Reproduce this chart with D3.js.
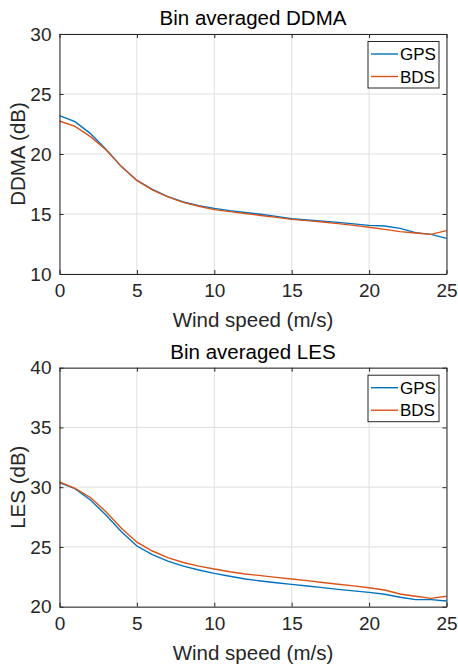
<html>
<head>
<script src="https://d3js.org/d3.v7.min.js"></script>
<style>
body { margin: 0; background: #fff; }
text { font-family: "Liberation Sans", Arial, sans-serif; }
</style>
</head>
<body>
<svg id="chart" width="458" height="665"></svg>
<script>
// wind speed bins (m/s)
var windSpeed = [0,1,2,3,4,5,6,7,8,9,10,11,12,13,14,15,16,17,18,19,20,21,22,23,24,25];

var ddmaGPS = [23.2,22.7,21.7,20.4,18.95,17.8,17.05,16.45,16.0,15.7,15.47,15.28,15.12,14.98,14.8,14.6,14.5,14.4,14.3,14.18,14.05,14.0,13.8,13.45,13.3,12.97];
var ddmaBDS = [22.75,22.3,21.45,20.35,18.95,17.8,17.02,16.42,15.97,15.65,15.36,15.2,15.04,14.88,14.72,14.55,14.45,14.33,14.2,14.05,13.9,13.72,13.53,13.42,13.3,13.62];

var lesGPS = [30.38,29.88,28.93,27.67,26.28,25.08,24.36,23.82,23.4,23.07,22.79,22.55,22.32,22.15,22.0,21.87,21.73,21.6,21.45,21.32,21.2,21.04,20.79,20.59,20.59,20.48];
var lesBDS = [30.44,29.9,29.14,27.95,26.56,25.4,24.66,24.1,23.7,23.4,23.15,22.93,22.74,22.6,22.45,22.32,22.18,22.03,21.88,21.74,21.59,21.4,21.06,20.87,20.7,20.87];

var xTicks = [0,5,10,15,20,25];
var ddmaTicks = [10,15,20,25,30];
var lesTicks = [20,25,30,35,40];
var seriesNames = ["GPS","BDS"];
var seriesColors = ["#0072BD","#D95319"];

var svg = d3.select("#chart");
var axisColor = "#262626";

function drawPanel(top, bottom, yDomain, yTicks, gps, bds, title, ylabel) {
  var left = 59.5, right = 446.5;
  var x = d3.scaleLinear().domain([0,25]).range([left, right]);
  var y = d3.scaleLinear().domain(yDomain).range([bottom, top]);
  var g = svg.append("g");

  // grid
  g.selectAll(".gx").data(xTicks).enter().append("line")
    .attr("x1", d => x(d)).attr("x2", d => x(d))
    .attr("y1", top).attr("y2", bottom)
    .attr("stroke", "#dfdfdf").attr("stroke-width", 1);
  g.selectAll(".gy").data(yTicks).enter().append("line")
    .attr("x1", left).attr("x2", right)
    .attr("y1", d => y(d)).attr("y2", d => y(d))
    .attr("stroke", "#dfdfdf").attr("stroke-width", 1);

  // lines
  var line = d3.line().x((d,i) => x(windSpeed[i])).y(d => y(d));
  [gps, bds].forEach(function(s, k) {
    g.append("path").datum(s)
      .attr("d", line)
      .attr("fill", "none")
      .attr("stroke", seriesColors[k])
      .attr("stroke-width", 1.4);
  });

  // axes with inward ticks
  var ax = [
    [d3.axisBottom(x).tickValues(xTicks).tickSizeInner(-4).tickSizeOuter(0).tickPadding(10), "translate(0," + bottom + ")"],
    [d3.axisTop(x).tickValues(xTicks).tickSizeInner(-4).tickSizeOuter(0).tickFormat(""), "translate(0," + top + ")"],
    [d3.axisLeft(y).tickValues(yTicks).tickSizeInner(-4).tickSizeOuter(0).tickPadding(8), "translate(" + left + ",0)"],
    [d3.axisRight(y).tickValues(yTicks).tickSizeInner(-4).tickSizeOuter(0).tickFormat(""), "translate(" + right + ",0)"]
  ];
  ax.forEach(function(a) {
    var ag = g.append("g").attr("transform", a[1]).call(a[0]);
    ag.select(".domain").attr("stroke", axisColor).attr("stroke-width", 1);
    ag.selectAll(".tick line").attr("stroke", axisColor);
    ag.selectAll(".tick text").attr("fill", axisColor)
      .style("font-family", "Liberation Sans, Arial, sans-serif").style("font-size", "19px");
  });

  // title
  g.append("text").attr("x", (left + right) / 2).attr("y", top - 9)
    .attr("text-anchor", "middle").attr("fill", "#000")
    .style("font-size", "20.5px").text(title);
  // x label
  g.append("text").attr("x", (left + right) / 2).attr("y", bottom + 53)
    .attr("text-anchor", "middle").attr("fill", axisColor)
    .style("font-size", "20.5px").text("Wind speed (m/s)");
  // y label
  g.append("text")
    .attr("transform", "translate(25," + ((top + bottom) / 2) + ") rotate(-90)")
    .attr("text-anchor", "middle").attr("fill", axisColor)
    .style("font-size", "20.5px").text(ylabel);

  // legend
  var lx = 368, ly = top + 7.5, lw = 71, lh = 46.5;
  var lg = g.append("g");
  lg.append("rect").attr("x", lx).attr("y", ly).attr("width", lw).attr("height", lh)
    .attr("fill", "#fff").attr("stroke", axisColor).attr("stroke-width", 1);
  seriesNames.forEach(function(n, k) {
    var yy = ly + 12.5 + k * 22.5;
    lg.append("line").attr("x1", lx + 3).attr("x2", lx + 30)
      .attr("y1", yy).attr("y2", yy)
      .attr("stroke", seriesColors[k]).attr("stroke-width", 1.4);
    lg.append("text").attr("x", lx + 32).attr("y", yy + 6)
      .attr("fill", "#000").style("font-size", "17px").text(n);
  });
}

drawPanel(34, 274, [10,30], ddmaTicks, ddmaGPS, ddmaBDS, "Bin averaged DDMA", "DDMA (dB)");
drawPanel(367.7, 606.7, [20,40], lesTicks, lesGPS, lesBDS, "Bin averaged LES", "LES (dB)");
</script>
</body>
</html>
